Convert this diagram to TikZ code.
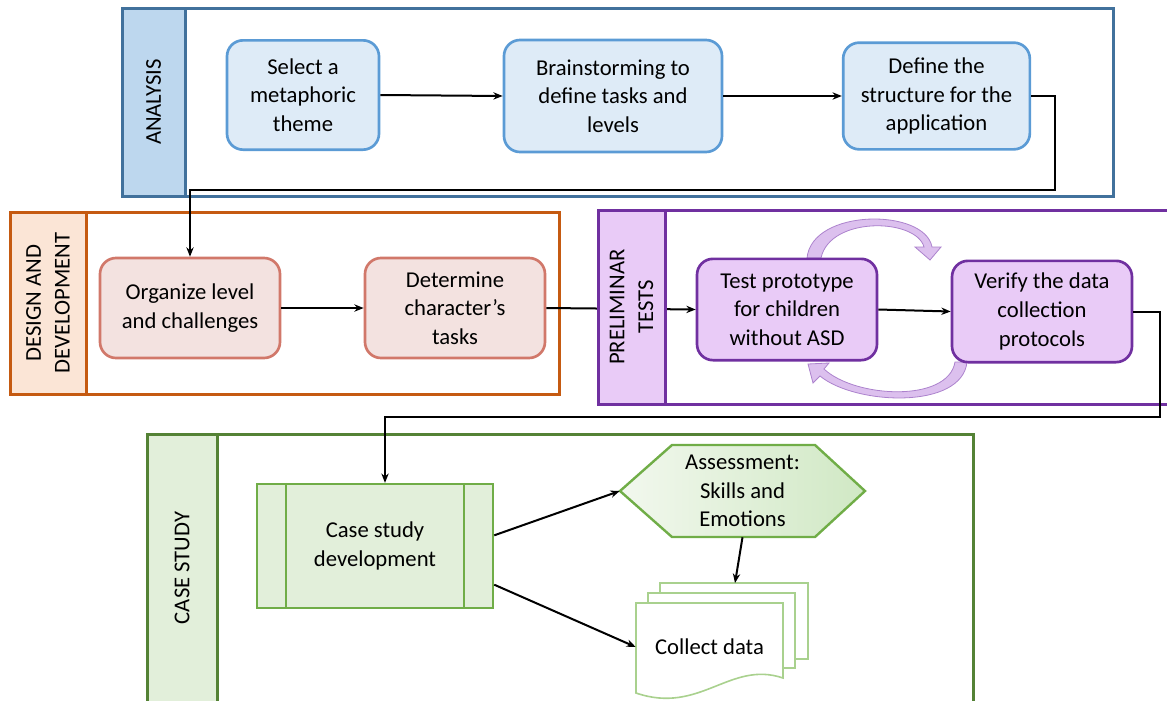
\documentclass[tikz,border=0pt]{standalone}
\usepackage{fontspec}
\setmainfont{Carlito}
\usetikzlibrary{arrows.meta}

\definecolor{anaedge}{RGB}{65,113,156}
\definecolor{anahead}{RGB}{189,215,238}
\definecolor{anabox}{RGB}{91,155,213}
\definecolor{anafill}{RGB}{222,235,247}
\definecolor{desedge}{RGB}{197,90,17}
\definecolor{deshead}{RGB}{251,229,214}
\definecolor{desbox}{RGB}{209,120,106}
\definecolor{desfill}{RGB}{243,226,224}
\definecolor{preedge}{RGB}{112,48,160}
\definecolor{prefill}{RGB}{233,203,247}
\definecolor{curvfill}{RGB}{220,192,238}
\definecolor{curvedge}{RGB}{172,130,205}
\definecolor{casedge}{RGB}{84,130,53}
\definecolor{casfill}{RGB}{226,239,218}
\definecolor{casbox}{RGB}{112,173,71}
\definecolor{hexl}{RGB}{242,248,238}
\definecolor{hexr}{RGB}{208,232,196}
\definecolor{docedge}{RGB}{169,209,142}

\begin{document}
\begin{tikzpicture}[x=0.75pt,y=-0.75pt,>={Stealth[length=7pt,width=5.5pt]},
                every node/.style={font=\fontsize{17}{21.5}\selectfont,align=center},
                frame/.style={line width=2.25pt},
                box/.style={draw,rounded corners=12pt,line width=2pt,inner sep=0pt},
                arr/.style={line width=1.5pt,->},
                curv/.style={fill=curvfill,draw=curvedge,line width=0.6pt}]
                \useasboundingbox (0,0) rectangle (1167,700);

                \draw[frame,draw=anaedge] (122,8) rectangle (1113,196);
                \draw[frame,draw=anaedge,fill=anahead] (122,8) rectangle (185,196);
                \node[rotate=90] (HA) at (153.5,102) {ANALYSIS};

                \node[box,draw=anabox,fill=anafill,minimum width=114pt,minimum height=82pt] (A1) at (303,95) {Select a\\metaphoric\\theme};
                \node[box,draw=anabox,fill=anafill,minimum width=163.5pt,minimum height=84pt] (A2) at (613,96) {Brainstorming to\\define tasks and\\levels};
                \node[box,draw=anabox,fill=anafill,minimum width=140pt,minimum height=80pt] (A3) at (936.5,96) {Define the\\structure for the\\application};

                \draw[frame,draw=desedge] (10,212) rectangle (559,394);
                \draw[frame,draw=desedge,fill=deshead] (10,212) rectangle (86,394);
                \node[rotate=90] (HD) at (48,303) {DESIGN AND\\DEVELOPMENT};

                \node[box,draw=desbox,fill=desfill,minimum width=135pt,minimum height=75pt] (D1) at (190,308) {Organize level\\and challenges};
                \node[box,draw=desbox,fill=desfill,minimum width=135pt,minimum height=75pt] (D2) at (455,308) {Determine\\character’s\\tasks};

                \draw[curv] (807,258) .. controls (812,208) and (925,208) .. (932,247) -- (941,247) -- (930,260) -- (915,247) -- (924,247) .. controls (916,218) and (830,216) .. (821,258) -- cycle;
                \draw[curv] (967,362) .. controls (962,410) and (855,405) .. (820,376) -- (813,383) -- (808,364) -- (829,363) -- (824,369) .. controls (855,398) and (948,403) .. (955,362) -- cycle;

                \node[box,draw=preedge,fill=prefill,minimum width=135pt,minimum height=76pt] (P1) at (787,309.5) {Test prototype\\for children\\without ASD};
                \node[box,draw=preedge,fill=prefill,minimum width=135pt,minimum height=76pt] (P2) at (1042,311.5) {Verify the data\\collection\\protocols};

                \draw[arr] (D2.east) -- (P1.west);

                \draw[frame,draw=preedge] (598,210) rectangle (1180,404);
                \draw[frame,draw=preedge,fill=prefill] (598,210) rectangle (665,404);
                \node[rotate=90] (HP) at (631.5,307) {PRELIMINAR\\TESTS};

                \draw[frame,draw=casedge] (147,434) rectangle (973,710);
                \draw[frame,draw=casedge,fill=casfill] (147,434) rectangle (217,710);
                \node[rotate=90] (HC) at (182,568) {CASE STUDY};

                \node[draw=casbox,fill=casfill,line width=1.8pt,minimum width=177pt,minimum height=93pt] (C1) at (375,546) {Case study\\development};
                \draw[draw=casbox,line width=1.8pt] ([xshift=22.5pt]C1.north west) -- ([xshift=22.5pt]C1.south west);
                \draw[draw=casbox,line width=1.8pt] ([xshift=-22.5pt]C1.north east) -- ([xshift=-22.5pt]C1.south east);

                \draw[draw=casbox,line width=1.8pt,left color=hexl,right color=hexr] (620,491) -- (672,445) -- (815,445) -- (865,491) -- (815,537) -- (672,537) -- cycle;
                \node[minimum width=183.75pt,minimum height=69pt,inner sep=0pt] (H) at (742.5,491) {Assessment:\\Skills and\\Emotions};

                \draw[draw=docedge,fill=white,line width=1.2pt] (660,583) rectangle (808,659);
                \draw[draw=docedge,fill=white,line width=1.2pt] (648,593) rectangle (795,668);
                \draw[draw=docedge,fill=white,line width=1.2pt] (636,603) -- (783,603) -- (783,678) .. controls (730,660) and (700,715) .. (636,693) -- cycle;
                \node[minimum width=110.25pt,inner sep=0pt] (M) at (709.5,647) {Collect data};
                \coordinate (MT) at (735,583);

                \coordinate (K1) at (1055,190);
                \coordinate (K2) at (1160,417);

                \draw[arr] (A1.east) -- (A2.west);
                \draw[arr] (A2.east) -- (A3.west);
                \draw[arr] (A3.east) -| (K1) -| (D1.north);

                \draw[arr] (D1.east) -- (D2.west);
                \draw[arr] (P1.east) -- (P2.west);
                \draw[arr] (P2.east) -| (K2) -| ([xshift=7.5pt]C1.north);

                \draw[arr] ([yshift=8pt]C1.east) -- (H.west);
                \draw[arr] ([yshift=-29pt]C1.east) -- (M.west);
                \draw[arr] (H.south) -- (MT);
            \end{tikzpicture}
\end{document}
